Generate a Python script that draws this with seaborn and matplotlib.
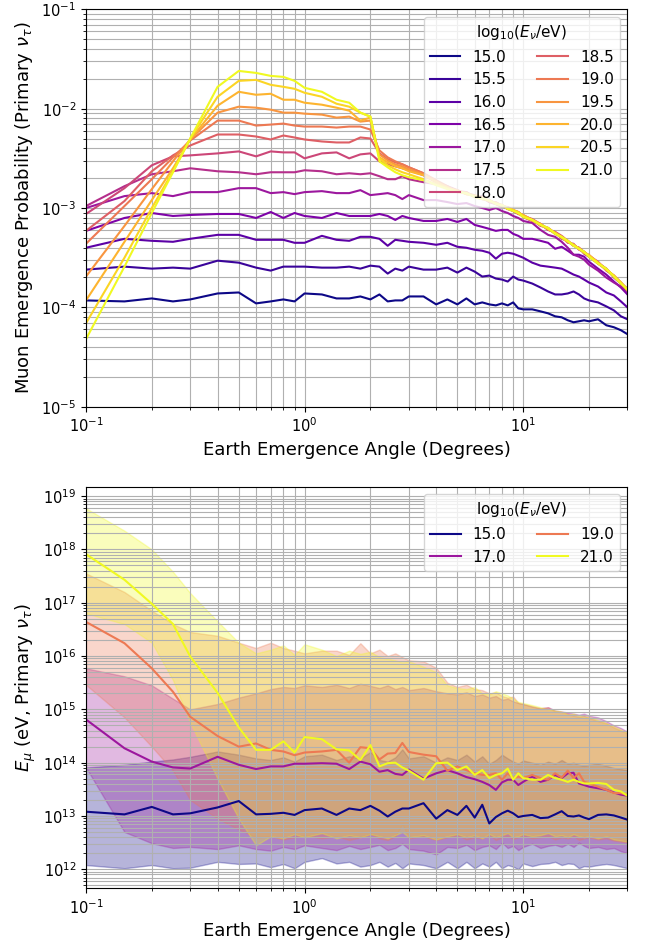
import numpy as np
import pandas as pd
import matplotlib
matplotlib.use("Agg")
import matplotlib.pyplot as plt
import seaborn as sns

# emergence angles (degrees), shared by both panels
angles = [0.1, 0.15, 0.2, 0.25, 0.3, 0.4, 0.5, 0.6, 0.7, 0.8, 0.9, 1.0, 1.2, 1.4, 1.6, 1.8,
          2.0, 2.2, 2.4, 2.6, 2.8, 3.0, 3.5, 4.0, 4.5, 5.0, 5.5, 6.0, 6.5, 7.0, 7.5, 8.0,
          8.5, 9.0, 9.5, 10, 11, 12, 13, 14, 15, 16, 17, 18, 19, 20, 22, 24, 26, 28, 30]

# top panel: log10 muon emergence probability per log10(E_nu/eV)
energies_top = ["15.0", "15.5", "16.0", "16.5", "17.0", "17.5", "18.0",
                "18.5", "19.0", "19.5", "20.0", "20.5", "21.0"]
p150 = [-3.93, -3.94, -3.91, -3.94, -3.92, -3.86, -3.85, -3.96, -3.94, -3.92, -3.94, -3.86, -3.87, -3.91, -3.91, -3.89, -3.92, -3.87, -3.94, -3.93, -3.93, -3.89, -3.89, -3.97, -3.92, -3.97, -3.91, -3.97, -3.95, -3.97, -3.98, -3.96, -3.98, -3.95, -4.01, -4.02, -4.02, -4.04, -4.06, -4.09, -4.10, -4.13, -4.15, -4.14, -4.13, -4.14, -4.12, -4.18, -4.20, -4.23, -4.27]
p155 = [-3.62, -3.59, -3.61, -3.60, -3.61, -3.53, -3.55, -3.60, -3.63, -3.59, -3.59, -3.59, -3.60, -3.60, -3.59, -3.61, -3.58, -3.59, -3.66, -3.61, -3.63, -3.59, -3.62, -3.62, -3.60, -3.65, -3.60, -3.64, -3.69, -3.68, -3.71, -3.72, -3.74, -3.69, -3.72, -3.73, -3.76, -3.80, -3.84, -3.87, -3.87, -3.86, -3.84, -3.87, -3.91, -3.93, -3.95, -3.99, -4.03, -4.09, -4.12]
p160 = [-3.40, -3.31, -3.33, -3.34, -3.31, -3.27, -3.27, -3.32, -3.32, -3.32, -3.35, -3.35, -3.28, -3.32, -3.33, -3.29, -3.29, -3.31, -3.38, -3.32, -3.33, -3.34, -3.35, -3.37, -3.35, -3.39, -3.40, -3.42, -3.43, -3.45, -3.51, -3.46, -3.45, -3.46, -3.48, -3.50, -3.55, -3.58, -3.59, -3.60, -3.61, -3.64, -3.67, -3.69, -3.72, -3.75, -3.79, -3.85, -3.88, -3.94, -4.00]
p165 = [-3.23, -3.10, -3.05, -3.08, -3.07, -3.06, -3.06, -3.10, -3.04, -3.10, -3.05, -3.08, -3.10, -3.05, -3.08, -3.08, -3.08, -3.06, -3.08, -3.12, -3.08, -3.10, -3.13, -3.13, -3.11, -3.14, -3.11, -3.17, -3.19, -3.21, -3.23, -3.22, -3.22, -3.26, -3.28, -3.31, -3.31, -3.33, -3.35, -3.41, -3.39, -3.43, -3.47, -3.47, -3.49, -3.54, -3.61, -3.67, -3.74, -3.80, -3.87]
p170 = [-3.00, -2.88, -2.85, -2.88, -2.84, -2.84, -2.80, -2.80, -2.85, -2.84, -2.86, -2.84, -2.83, -2.85, -2.85, -2.82, -2.87, -2.86, -2.85, -2.87, -2.91, -2.87, -2.92, -2.92, -2.94, -2.96, -2.95, -2.98, -3.00, -3.02, -3.00, -3.03, -3.05, -3.08, -3.10, -3.13, -3.15, -3.22, -3.27, -3.29, -3.34, -3.40, -3.47, -3.49, -3.52, -3.57, -3.63, -3.70, -3.75, -3.79, -3.84]
p175 = [-2.98, -2.78, -2.66, -2.63, -2.60, -2.63, -2.64, -2.66, -2.64, -2.64, -2.64, -2.62, -2.63, -2.66, -2.65, -2.66, -2.65, -2.68, -2.71, -2.71, -2.68, -2.71, -2.74, -2.76, -2.79, -2.83, -2.84, -2.89, -2.88, -2.94, -2.96, -2.97, -3.01, -3.03, -3.04, -3.09, -3.13, -3.16, -3.22, -3.24, -3.31, -3.33, -3.38, -3.40, -3.46, -3.49, -3.56, -3.61, -3.70, -3.76, -3.83]
p180 = [-3.06, -2.80, -2.57, -2.48, -2.47, -2.45, -2.43, -2.48, -2.43, -2.44, -2.44, -2.50, -2.45, -2.44, -2.50, -2.46, -2.45, -2.53, -2.56, -2.58, -2.60, -2.62, -2.67, -2.74, -2.78, -2.82, -2.86, -2.87, -2.91, -2.92, -2.96, -2.99, -2.99, -3.03, -3.06, -3.07, -3.12, -3.18, -3.20, -3.26, -3.29, -3.35, -3.36, -3.42, -3.44, -3.48, -3.54, -3.63, -3.68, -3.75, -3.82]
p185 = [-3.23, -2.93, -2.63, -2.47, -2.37, -2.26, -2.26, -2.28, -2.31, -2.27, -2.29, -2.31, -2.33, -2.34, -2.34, -2.29, -2.30, -2.45, -2.51, -2.54, -2.56, -2.59, -2.65, -2.73, -2.79, -2.83, -2.85, -2.88, -2.90, -2.94, -2.94, -2.98, -3.01, -3.02, -3.04, -3.08, -3.11, -3.16, -3.22, -3.24, -3.28, -3.33, -3.38, -3.40, -3.44, -3.49, -3.55, -3.61, -3.69, -3.76, -3.81]
p190 = [-3.36, -2.98, -2.71, -2.49, -2.32, -2.12, -2.12, -2.17, -2.16, -2.15, -2.17, -2.18, -2.18, -2.19, -2.18, -2.18, -2.21, -2.42, -2.49, -2.53, -2.56, -2.59, -2.65, -2.72, -2.78, -2.84, -2.84, -2.89, -2.91, -2.92, -2.95, -2.97, -3.00, -3.03, -3.05, -3.09, -3.13, -3.16, -3.21, -3.26, -3.29, -3.34, -3.37, -3.41, -3.45, -3.48, -3.56, -3.62, -3.68, -3.75, -3.82]
p195 = [-3.69, -3.18, -2.81, -2.53, -2.31, -2.04, -1.98, -1.99, -2.01, -2.04, -2.04, -2.05, -2.06, -2.09, -2.08, -2.13, -2.12, -2.46, -2.52, -2.56, -2.58, -2.61, -2.66, -2.73, -2.80, -2.82, -2.86, -2.87, -2.90, -2.93, -2.96, -2.98, -2.99, -3.02, -3.06, -3.08, -3.12, -3.17, -3.20, -3.25, -3.30, -3.33, -3.38, -3.40, -3.45, -3.47, -3.55, -3.62, -3.68, -3.76, -3.82]
p200 = [-3.93, -3.34, -2.92, -2.60, -2.31, -1.97, -1.83, -1.86, -1.85, -1.91, -1.91, -1.94, -1.96, -1.99, -2.02, -2.12, -2.09, -2.49, -2.54, -2.58, -2.60, -2.63, -2.67, -2.74, -2.79, -2.83, -2.85, -2.88, -2.89, -2.93, -2.95, -2.97, -3.00, -3.02, -3.05, -3.07, -3.12, -3.16, -3.21, -3.25, -3.29, -3.34, -3.37, -3.41, -3.44, -3.48, -3.55, -3.62, -3.69, -3.75, -3.83]
p205 = [-4.16, -3.50, -3.00, -2.63, -2.30, -1.88, -1.72, -1.71, -1.76, -1.78, -1.80, -1.84, -1.88, -1.95, -1.98, -2.04, -2.08, -2.50, -2.57, -2.61, -2.64, -2.66, -2.71, -2.76, -2.80, -2.83, -2.86, -2.88, -2.90, -2.93, -2.95, -2.98, -3.00, -3.02, -3.04, -3.08, -3.12, -3.17, -3.21, -3.25, -3.30, -3.34, -3.37, -3.41, -3.45, -3.48, -3.55, -3.62, -3.68, -3.75, -3.82]
p210 = [-4.32, -3.59, -3.05, -2.64, -2.30, -1.78, -1.62, -1.64, -1.67, -1.68, -1.72, -1.79, -1.83, -1.91, -1.94, -2.04, -2.08, -2.53, -2.59, -2.64, -2.67, -2.69, -2.72, -2.77, -2.81, -2.84, -2.85, -2.89, -2.91, -2.92, -2.96, -2.97, -3.01, -3.03, -3.05, -3.09, -3.12, -3.17, -3.20, -3.26, -3.29, -3.33, -3.38, -3.41, -3.44, -3.49, -3.56, -3.61, -3.69, -3.76, -3.82]
top_logp = [p150, p155, p160, p165, p170, p175, p180, p185, p190, p195, p200, p205, p210]

# bottom panel: log10 muon energy, median and band edges
energies_bot = ["15.0", "17.0", "19.0", "21.0"]
m15 = [13.08, 13.03, 13.17, 13.03, 13.05, 13.16, 13.28, 13.03, 13.04, 13.06, 13.02, 13.11, 13.14, 13.02, 13.14, 13.11, 13.19, 13.10, 12.99, 13.08, 13.14, 13.14, 13.24, 12.95, 13.11, 13.02, 13.19, 12.97, 13.21, 12.86, 12.98, 13.05, 13.10, 13.05, 12.98, 13.00, 13.02, 12.96, 12.97, 13.03, 13.09, 13.00, 12.99, 13.01, 12.97, 12.94, 13.02, 13.03, 13.01, 12.97, 12.93]
m17 = [14.81, 14.27, 14.02, 13.91, 13.89, 14.11, 13.96, 13.88, 13.93, 13.93, 13.98, 13.98, 13.99, 13.98, 13.88, 14.02, 13.97, 13.83, 13.86, 13.79, 13.77, 13.87, 13.70, 13.80, 13.86, 13.80, 13.73, 13.69, 13.64, 13.58, 13.49, 13.63, 13.68, 13.68, 13.58, 13.64, 13.74, 13.64, 13.68, 13.77, 13.71, 13.80, 13.81, 13.61, 13.58, 13.55, 13.52, 13.49, 13.44, 13.40, 13.38]
m19 = [16.64, 16.24, 15.77, 15.33, 14.86, 14.50, 14.30, 14.36, 14.24, 14.21, 14.14, 14.19, 14.21, 14.24, 14.00, 14.29, 14.27, 14.06, 14.17, 14.18, 14.37, 14.20, 14.15, 14.12, 13.85, 13.93, 13.86, 13.80, 13.77, 13.77, 13.80, 13.68, 13.80, 13.71, 13.74, 13.71, 13.77, 13.71, 13.68, 13.80, 13.72, 13.85, 13.71, 13.80, 13.64, 13.61, 13.55, 13.49, 13.43, 13.43, 13.39]
m21 = [17.91, 17.43, 16.98, 16.60, 15.99, 15.31, 14.66, 14.24, 14.24, 14.40, 14.19, 14.48, 14.44, 14.25, 14.23, 14.05, 14.33, 13.93, 13.99, 14.00, 13.91, 13.85, 13.68, 13.99, 14.00, 13.86, 13.93, 13.77, 13.86, 13.71, 13.77, 13.80, 13.89, 13.68, 13.80, 13.71, 13.68, 13.68, 13.77, 13.71, 13.68, 13.64, 13.68, 13.64, 13.61, 13.61, 13.62, 13.60, 13.49, 13.46, 13.38]

lo15 = [12.08, 12.02, 12.08, 12.02, 12.03, 12.14, 12.10, 12.11, 12.04, 12.10, 12.02, 12.14, 12.21, 12.11, 12.14, 12.05, 12.08, 12.14, 12.05, 12.12, 12.02, 12.11, 12.08, 12.02, 12.14, 12.02, 12.14, 12.02, 12.11, 12.05, 12.14, 12.02, 12.08, 12.05, 12.00, 12.11, 12.06, 12.10, 12.11, 12.14, 12.08, 12.11, 12.10, 12.02, 12.06, 12.05, 12.08, 12.10, 12.08, 12.05, 12.02]
hi15 = [13.91, 13.96, 14.02, 14.06, 14.11, 14.21, 14.15, 14.08, 14.05, 14.10, 14.02, 14.12, 14.15, 14.05, 14.12, 14.08, 14.20, 14.05, 14.02, 14.10, 14.25, 14.08, 14.12, 14.00, 14.10, 14.05, 14.15, 14.02, 14.12, 13.98, 14.05, 14.15, 14.08, 14.02, 13.98, 14.04, 14.00, 13.96, 14.02, 13.98, 14.05, 13.98, 14.00, 13.96, 13.94, 13.96, 13.98, 13.94, 13.90, 13.88, 13.86]
lo17 = [13.91, 12.70, 12.49, 12.40, 12.42, 12.38, 12.45, 12.38, 12.35, 12.42, 12.38, 12.45, 12.40, 12.36, 12.44, 12.38, 12.42, 12.46, 12.36, 12.40, 12.48, 12.38, 12.35, 12.28, 12.42, 12.40, 12.46, 12.36, 12.42, 12.45, 12.38, 12.50, 12.40, 12.44, 12.36, 12.42, 12.48, 12.40, 12.44, 12.46, 12.42, 12.48, 12.42, 12.50, 12.44, 12.40, 12.42, 12.38, 12.40, 12.34, 12.30]
hi17 = [15.77, 15.62, 15.45, 15.20, 15.00, 15.10, 15.22, 15.30, 15.38, 15.42, 15.40, 15.45, 15.42, 15.46, 15.40, 15.48, 15.44, 15.40, 15.45, 15.38, 15.42, 15.36, 15.40, 15.34, 15.30, 15.28, 15.32, 15.25, 15.28, 15.22, 15.25, 15.18, 15.20, 15.15, 15.12, 15.10, 15.05, 15.02, 15.04, 14.98, 14.96, 14.94, 14.92, 14.90, 14.92, 14.88, 14.85, 14.78, 14.70, 14.65, 14.58]
lo19 = [15.46, 14.85, 14.30, 13.85, 13.30, 12.95, 12.75, 12.60, 12.62, 12.56, 12.60, 12.64, 12.58, 12.62, 12.55, 12.60, 12.66, 12.58, 12.55, 12.62, 12.85, 12.58, 12.62, 12.55, 12.60, 12.64, 12.56, 12.60, 12.58, 12.64, 12.55, 12.60, 12.62, 12.57, 12.60, 12.63, 12.58, 12.60, 12.62, 12.56, 12.60, 12.58, 12.62, 12.55, 12.58, 12.60, 12.56, 12.58, 12.54, 12.52, 12.50]
hi19 = [17.55, 17.20, 16.85, 16.60, 16.45, 16.38, 16.25, 16.15, 16.25, 16.15, 16.10, 16.05, 16.10, 16.10, 16.02, 16.24, 16.05, 16.12, 16.00, 16.05, 15.98, 15.92, 15.90, 15.78, 15.50, 15.42, 15.46, 15.38, 15.36, 15.30, 15.32, 15.25, 15.22, 15.24, 15.12, 15.10, 15.06, 15.02, 15.04, 14.96, 14.95, 14.92, 14.88, 14.86, 14.88, 14.84, 14.78, 14.74, 14.66, 14.60, 14.55]
lo21 = [16.80, 16.60, 16.25, 15.55, 14.75, 13.70, 12.95, 12.45, 12.62, 12.58, 12.66, 12.60, 12.68, 12.58, 12.64, 12.60, 12.66, 12.62, 12.58, 12.64, 12.70, 12.60, 12.64, 12.56, 12.62, 12.66, 12.60, 12.64, 12.58, 12.66, 12.60, 12.64, 12.68, 12.60, 12.62, 12.66, 12.62, 12.64, 12.68, 12.62, 12.64, 12.60, 12.66, 12.62, 12.60, 12.62, 12.58, 12.62, 12.56, 12.54, 12.52]
hi21 = [18.77, 18.35, 18.00, 17.58, 17.18, 16.65, 16.25, 16.05, 16.12, 16.20, 16.02, 16.22, 16.12, 16.00, 16.10, 16.04, 16.08, 15.98, 15.95, 15.92, 15.88, 15.90, 15.80, 15.70, 15.45, 15.40, 15.38, 15.42, 15.30, 15.28, 15.34, 15.30, 15.26, 15.20, 15.14, 15.12, 15.08, 15.04, 15.00, 14.98, 14.96, 14.90, 14.92, 14.88, 14.86, 14.86, 14.80, 14.74, 14.68, 14.62, 14.56]
bot_med = [m15, m17, m19, m21]
bot_lo = [lo15, lo17, lo19, lo21]
bot_hi = [hi15, hi17, hi19, hi21]

legend_title = r"log$_{10}$($E_\nu$/eV)"
plasma = plt.get_cmap("plasma")
top_colors = [plasma(i / 12) for i in range(13)]
bot_colors = [plasma(i / 3) for i in range(4)]

fig = plt.figure(figsize=(6.46, 9.43), dpi=100)
ax1 = fig.add_axes([0.1331, 0.5687, 0.8382, 0.4214])
ax2 = fig.add_axes([0.1331, 0.0580, 0.8382, 0.4259])

# top: emergence probability
df_top = pd.DataFrame({
    "angle": np.tile(angles, len(energies_top)),
    "prob": 10 ** np.concatenate([np.array(v) for v in top_logp]),
    "E": np.repeat(energies_top, len(angles)),
})
sns.lineplot(data=df_top, x="angle", y="prob", hue="E", palette=top_colors,
             linewidth=1.5, ax=ax1)
ax1.set_xscale("log")
ax1.set_yscale("log")
ax1.set_xlim(0.1, 30)
ax1.set_ylim(1e-5, 1e-1)
ax1.grid(True, which="both")
ax1.set_xlabel("Earth Emergence Angle (Degrees)", fontsize=13)
ax1.set_ylabel(r"Muon Emergence Probability (Primary $\nu_\tau$)", fontsize=13)
ax1.tick_params(labelsize=10.5)
sns.move_legend(ax1, "upper right", ncol=2, title=legend_title,
                fontsize=11, title_fontsize=11)

# bottom: muon energy with spread bands
for lab, c, lo, hi in zip(energies_bot, bot_colors, bot_lo, bot_hi):
    ax2.fill_between(angles, 10 ** np.array(lo), 10 ** np.array(hi), color=c, alpha=0.3)
df_bot = pd.DataFrame({
    "angle": np.tile(angles, len(energies_bot)),
    "Emu": 10 ** np.concatenate([np.array(v) for v in bot_med]),
    "E": np.repeat(energies_bot, len(angles)),
})
sns.lineplot(data=df_bot, x="angle", y="Emu", hue="E", palette=bot_colors,
             linewidth=1.5, ax=ax2)
ax2.set_xscale("log")
ax2.set_yscale("log")
ax2.set_xlim(0.1, 30)
ax2.set_ylim(4.4e11, 1.5e19)
ax2.grid(True, which="both")
ax2.set_xlabel("Earth Emergence Angle (Degrees)", fontsize=13)
ax2.set_ylabel(r"$E_\mu$ (eV, Primary $\nu_\tau$)", fontsize=13)
ax2.tick_params(labelsize=10.5)
sns.move_legend(ax2, "upper right", ncol=2, title=legend_title,
                fontsize=11, title_fontsize=11)

fig.savefig("out.png", dpi=100)
